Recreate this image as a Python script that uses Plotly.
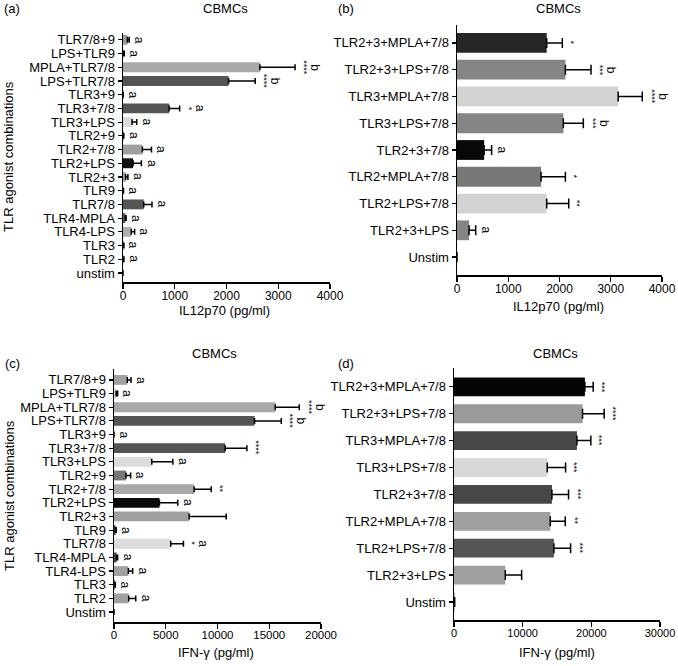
import plotly.graph_objects as go

W, H = 678, 666

# ---------------- data (top-to-bottom display order) ----------------
cats_single = ["TLR7/8+9", "LPS+TLR9", "MPLA+TLR7/8", "LPS+TLR7/8", "TLR3+9", "TLR3+7/8",
               "TLR3+LPS", "TLR2+9", "TLR2+7/8", "TLR2+LPS", "TLR2+3", "TLR9", "TLR7/8",
               "TLR4-MPLA", "TLR4-LPS", "TLR3", "TLR2", "unstim"]
cats_single_c = cats_single[:-1] + ["Unstim"]

il12_a = [85, 10, 2645, 2040, 5, 890, 175, 10, 375, 195, 50, 5, 400, 45, 160, 8, 8, 0]
il12_a_err = [35, 15, 680, 515, 0, 205, 90, 5, 175, 160, 45, 5, 160, 15, 65, 10, 10, 0]
stars_a = ["", "", "****", "****", "", "*", "", "", "", "", "", "", "", "", "", "", "", ""]
letters_a = ["a", "a", "b", "b", "a", "a", "a", "a", "a", "a", "a", "a", "a", "a", "a", "a", "a", ""]

ifn_c = [1290, 200, 15580, 13580, 0, 10740, 3650, 1160, 7740, 4390, 7260, 150, 5480, 250, 1390, 100, 1420, 0]
ifn_c_err = [355, 150, 2320, 2580, 0, 2100, 2035, 450, 1650, 1770, 3580, 60, 1230, 100, 410, 30, 680, 0]
stars_c = ["", "", "****", "****", "", "****", "", "", "**", "", "", "", "*", "", "", "", "", ""]
letters_c = ["a", "a", "b", "b", "a", "", "a", "a", "", "a", "", "a", "a", "a", "a", "a", "a", ""]

cats_combo = ["TLR2+3+MPLA+7/8", "TLR2+3+LPS+7/8", "TLR3+MPLA+7/8", "TLR3+LPS+7/8", "TLR2+3+7/8",
              "TLR2+MPLA+7/8", "TLR2+LPS+7/8", "TLR2+3+LPS", "Unstim"]

il12_b = [1750, 2115, 3145, 2075, 530, 1640, 1750, 235, 0]
il12_b_err = [305, 500, 470, 390, 145, 475, 430, 130, 0]
stars_b = ["*", "***", "****", "***", "", "*", "**", "", ""]
letters_b = ["", "b", "b", "b", "a", "", "", "a", ""]

ifn_d = [19060, 18720, 17900, 13580, 14260, 14020, 14550, 7470, 100]
ifn_d_err = [1210, 3150, 2030, 2670, 2420, 2180, 2430, 2380, 0]
stars_d = ["***", "****", "***", "***", "***", "**", "***", "", ""]
letters_d = ["", "", "", "", "", "", "", "", ""]

x_ticks_il12 = [0, 1000, 2000, 3000, 4000]
x_ticks_ifn_c = [0, 5000, 10000, 15000, 20000]
x_ticks_ifn_d = [0, 10000, 20000, 30000]

# ---------------- styles ----------------
colors_a = ["#9c9c9c", "#9c9c9c", "#a8a8a8", "#555555", "#555555", "#555555", "#dadada", "#777777",
            "#a0a0a0", "#111111", "#a0a0a0", "#555555", "#555555", "#555555", "#b0b0b0", "#777777",
            "#999999", "#999999"]
colors_c = ["#a0a0a0", "#d8d8d8", "#a8a8a8", "#555555", "#555555", "#555555", "#dcdcdc", "#777777",
            "#a8a8a8", "#0a0a0a", "#a0a0a0", "#444444", "#dcdcdc", "#444444", "#a0a0a0", "#777777",
            "#a0a0a0", "#999999"]
colors_b = ["#262626", "#858585", "#d2d2d2", "#858585", "#080808", "#787878", "#d2d2d2", "#858585", "#999999"]
colors_d = ["#050505", "#9a9a9a", "#474747", "#d8d8d8", "#474747", "#a0a0a0", "#555555", "#a0a0a0", "#999999"]

FONT = "Liberation Sans, Arial, Helvetica, sans-serif"

panels = [
    dict(cats=cats_single, v=il12_a, e=il12_a_err, s=stars_a, l=letters_a, c=colors_a,
         xr=[0, 4000], tk=x_ticks_il12, tfs=12, box=(123, 330, 33, 282), yr=[-0.66, 17.5], bw=0.72, cap=3,
         title="IL12p70 (pg/ml)", tpos=(224, 310), lab="(a)", labpos=(12, 9), cb=(225, 9)),
    dict(cats=cats_combo, v=il12_b, e=il12_b_err, s=stars_b, l=letters_b, c=colors_b,
         xr=[0, 4000], tk=x_ticks_il12, tfs=12, box=(457, 662, 25, 275), yr=[-0.67, 8.67], bw=0.74, cap=5,
         title="IL12p70 (pg/ml)", tpos=(558, 306), lab="(b)", labpos=(346, 9), cb=(558, 9)),
    dict(cats=cats_single_c, v=ifn_c, e=ifn_c_err, s=stars_c, l=letters_c, c=colors_c,
         xr=[0, 20000], tk=x_ticks_ifn_c, tfs=11.5, box=(114, 321, 369, 622), yr=[-0.73, 17.8], bw=0.72, cap=3,
         title="IFN-γ (pg/ml)", tpos=(216, 652), lab="(c)", labpos=(12, 363), cb=(215, 353)),
    dict(cats=cats_combo, v=ifn_d, e=ifn_d_err, s=stars_d, l=letters_d, c=colors_d,
         xr=[0, 30000], tk=x_ticks_ifn_d, tfs=11, box=(454, 660, 368, 620), yr=[-0.67, 8.7], bw=0.7, cap=5,
         title="IFN-γ (pg/ml)", tpos=(557, 652), lab="(d)", labpos=(346, 363), cb=(555, 353)),
]

fig = go.Figure()
annotations = []
layout_axes = {}

for i, p in enumerate(panels, start=1):
    xa = "x" if i == 1 else f"x{i}"
    ya = "y" if i == 1 else f"y{i}"
    cats = p["cats"][::-1]
    vals = p["v"][::-1]
    errs = p["e"][::-1]
    cols = p["c"][::-1]
    fig.add_trace(go.Bar(
        x=vals, y=cats, orientation="h", xaxis=xa, yaxis=ya,
        marker=dict(color=cols, line=dict(width=0)), width=p["bw"],
        error_x=dict(type="data", symmetric=False, array=errs, arrayminus=[0] * len(errs),
                     color="black", thickness=1.5, width=p["cap"]),
        showlegend=False, hoverinfo="skip",
    ))
    x0, x1, y0, y1 = p["box"]
    xkey = "xaxis" if i == 1 else f"xaxis{i}"
    ykey = "yaxis" if i == 1 else f"yaxis{i}"
    layout_axes[xkey] = dict(
        domain=[x0 / W, x1 / W], anchor=ya, range=p["xr"],
        tickmode="array", tickvals=p["tk"], ticktext=[str(t) for t in p["tk"]],
        ticks="outside", ticklen=5, tickwidth=1.2, tickcolor="black", automargin=False,
        ticklabelstandoff=-3, ticklabeloverflow="allow",
        showline=True, linecolor="black", linewidth=1.5, showgrid=False, zeroline=False,
        tickfont=dict(family=FONT, size=p["tfs"], color="black"), fixedrange=True,
    )
    layout_axes[ykey] = dict(
        domain=[1 - y1 / H, 1 - y0 / H], anchor=xa, type="category", range=p["yr"],
        categoryorder="array", categoryarray=cats,
        tickmode="array", tickvals=cats, ticktext=cats, automargin=False,
        ticks="outside", ticklen=4, tickwidth=1.2, tickcolor="black", ticklabeloverflow="allow",
        showline=True, linecolor="black", linewidth=1.5, showgrid=False, zeroline=False,
        tickfont=dict(family=FONT, size=13, color="black"), fixedrange=True,
    )
    xref = xa
    yref = ya
    for cat, v, e, s, l in zip(p["cats"], p["v"], p["e"], p["s"], p["l"]):
        end = v + e
        shift = 7
        if s:
            annotations.append(dict(x=end, y=cat, xref=xref, yref=yref, text=s, textangle=90,
                                    showarrow=False, xanchor="center", yanchor="middle",
                                    xshift=shift + 2, font=dict(family=FONT, size=9, color="black")))
            shift += 10
        if l:
            annotations.append(dict(x=end, y=cat, xref=xref, yref=yref, text=l, textangle=90,
                                    showarrow=False, xanchor="center", yanchor="middle",
                                    xshift=shift + 3, font=dict(family=FONT, size=12, color="black")))
    annotations.append(dict(x=p["tpos"][0] / W, y=1 - p["tpos"][1] / H, xref="paper", yref="paper",
                            text=p["title"], showarrow=False, xanchor="center", yanchor="middle",
                            font=dict(family=FONT, size=13, color="black")))
    annotations.append(dict(x=p["labpos"][0] / W, y=1 - p["labpos"][1] / H, xref="paper", yref="paper",
                            text=p["lab"], showarrow=False, xanchor="center", yanchor="middle",
                            font=dict(family=FONT, size=13, color="black")))
    annotations.append(dict(x=p["cb"][0] / W, y=1 - p["cb"][1] / H, xref="paper", yref="paper",
                            text="CBMCs", showarrow=False, xanchor="center", yanchor="middle",
                            font=dict(family=FONT, size=13, color="black")))

for yc in (157, 496):
    annotations.append(dict(x=9 / W, y=1 - yc / H, xref="paper", yref="paper",
                            text="TLR agonist combinations", textangle=-90, showarrow=False,
                            xanchor="center", yanchor="middle",
                            font=dict(family=FONT, size=13, color="black")))

fig.update_layout(
    template="none",
    width=W, height=H, margin=dict(l=0, r=0, t=0, b=0, autoexpand=False),
    paper_bgcolor="white", plot_bgcolor="white",
    annotations=annotations, bargap=0.2,
    font=dict(family=FONT, size=13, color="black"),
    **layout_axes,
)

fig.write_html("out.html",
               config={"displayModeBar": False, "staticPlot": True},
               post_script="document.body.style.margin='0';document.body.style.padding='0';"
                           "document.body.style.overflow='hidden';")
